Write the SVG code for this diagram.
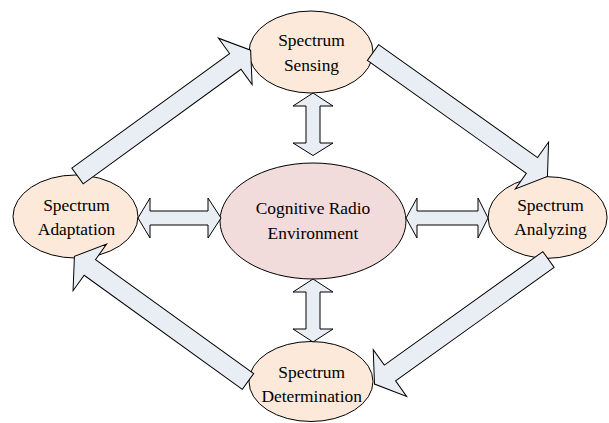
<svg xmlns="http://www.w3.org/2000/svg" width="609" height="423" viewBox="0 0 609 423">
<style>
.n{fill:#FDE9D9;stroke:#000;stroke-width:1}
.c{fill:#F2DCDB;stroke:#000;stroke-width:1}
.a{fill:#E9EDF4;stroke:#000;stroke-width:1;stroke-linejoin:miter}
text{font-family:"Liberation Serif","Times New Roman",serif;font-size:17.4px;fill:#000;text-anchor:middle}
</style>
<defs>
<polygon id="diag" points="0,-9.7 195,-9.7 195,-28.7 214,0 195,28.7 195,9.7 0,9.7"/>
</defs>
<rect width="609" height="423" fill="#fff"/>
<g id="node-sensing">
<ellipse class="n" cx="311" cy="52" rx="62" ry="41"/>
<text x="311.5" y="45.5">Spectrum</text>
<text x="311.5" y="70.5">Sensing</text>
</g>
<g id="node-environment">
<ellipse class="c" cx="313" cy="221" rx="93" ry="58"/>
<text x="313" y="213.5">Cognitive Radio</text>
<text x="313" y="238.5">Environment</text>
</g>
<g id="node-adaptation">
<ellipse class="n" cx="75.5" cy="216.5" rx="62.5" ry="41.5"/>
<text x="76.5" y="211">Spectrum</text>
<text x="76.5" y="235">Adaptation</text>
</g>
<g id="node-analyzing">
<ellipse class="n" cx="547.6" cy="217.5" rx="59.5" ry="40.8"/>
<text x="550.5" y="211">Spectrum</text>
<text x="550.5" y="235">Analyzing</text>
</g>
<g id="node-determination">
<ellipse class="n" cx="311" cy="381.5" rx="62" ry="40"/>
<text x="311.7" y="377.7">Spectrum</text>
<text x="311.7" y="401.5">Determination</text>
</g>
<g id="connectors">
<use href="#diag" class="a" transform="translate(77.5,176) rotate(-36)"/>
<use href="#diag" class="a" transform="translate(373,52.5) rotate(35.4)"/>
<use href="#diag" class="a" transform="translate(548.5,259.5) rotate(144.4)"/>
<use href="#diag" class="a" transform="translate(248,381.5) rotate(-144.2)"/>
<polygon class="a" points="313,93 333,106 320,106 320,143 333,143 313,155.5 293,143 306,143 306,106 293,106"/>
<polygon class="a" points="313,279 333,292 320,292 320,329 333,329 313,342 293,329 306,329 306,292 293,292"/>
<polygon class="a" points="138,218 150,198 150,211 208,211 208,198 221,218 208,238 208,225 150,225 150,238"/>
<polygon class="a" points="406,218 417,198 417,211 478,211 478,198 488,218 478,238 478,225 417,225 417,238"/>
</g>
</svg>
